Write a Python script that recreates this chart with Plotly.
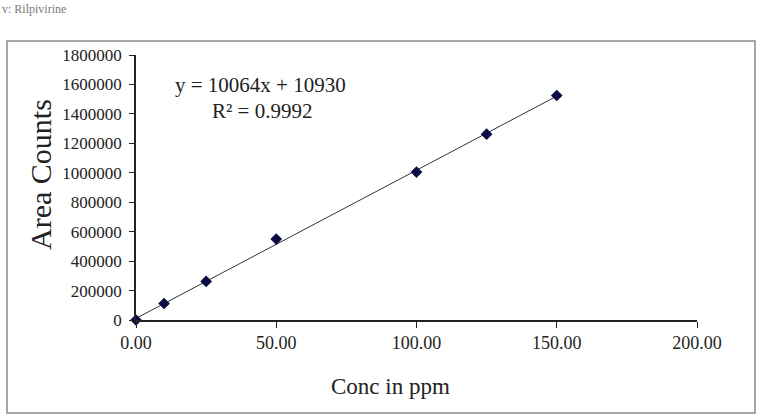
import plotly.graph_objects as go
import numpy as np

conc = [0, 10, 25, 50, 100, 125, 150]
area = [0, 112000, 262000, 550000, 1005000, 1262000, 1525000]
slope = 10064
intercept = 10930
r2 = 0.9992
x_ticks = [0, 50, 100, 150, 200]
y_ticks = list(range(0, 1800001, 200000))

fig = go.Figure()
line_x = np.array([0, 150])
line_y = slope * line_x + intercept
fig.add_trace(go.Scatter(x=line_x, y=line_y, mode="lines",
                         line=dict(color="#333333", width=1), cliponaxis=False,
                         showlegend=False, hoverinfo="skip"))
fig.add_trace(go.Scatter(x=conc, y=area, mode="markers",
                         marker=dict(symbol="diamond", size=9, color="#0b0b45"),
                         cliponaxis=False, showlegend=False))

serif = "Liberation Serif, Times New Roman, serif"
L, R, T, B = 136, 60, 55, 98
W, H = 757, 418
pw, ph = W - L - R, H - T - B

def px(x):
    return (x - L) / pw

def py(y):
    return (H - B - y) / ph

def ann(text, x, y, size, **kw):
    d = dict(text=text, xref="paper", yref="paper", x=px(x), y=py(y),
             xanchor="center", yanchor="middle", showarrow=False,
             font=dict(family=serif, size=size, color="#222222"))
    d.update(kw)
    return d

fig.update_layout(
    width=W, height=H,
    margin=dict(l=L, r=R, t=T, b=B),
    paper_bgcolor="white", plot_bgcolor="white",
    font=dict(family=serif, color="#222222"),
    xaxis=dict(range=[0, 200], tickvals=x_ticks, tickformat=".2f",
               showgrid=False, zeroline=False, showline=True, linecolor="#222222",
               linewidth=1.5, ticks="outside", ticklen=6, tickcolor="#222222",
               tickfont=dict(family=serif, size=18, color="#222222")),
    yaxis=dict(range=[0, 1800000], tickvals=y_ticks, tickformat="d",
               showgrid=False, zeroline=False, showline=True, linecolor="#222222",
               linewidth=1.5, ticks="outside", ticklen=5, tickcolor="#222222",
               ticklabelstandoff=4,
               tickfont=dict(family=serif, size=17, color="#222222")),
    shapes=[dict(type="rect", xref="paper", yref="paper",
                 x0=px(7), x1=px(755), y0=py(413), y1=py(41),
                 line=dict(color="#8a8a8a", width=1.5))],
    annotations=[
        ann("Area Counts", 40, 175, 30, textangle=-90),
        ann("Conc in ppm", 390, 386, 23),
        ann(f"y = {slope}x + {intercept}", 260, 85, 21),
        ann(f"R² = {r2}", 262, 111, 21),
        ann("v: Rilpivirine", 0, 0, 12, xanchor="left", yanchor="top",
            font=dict(family=serif, size=12, color="#777777")),
    ],
)

fig.write_html("out.html")
